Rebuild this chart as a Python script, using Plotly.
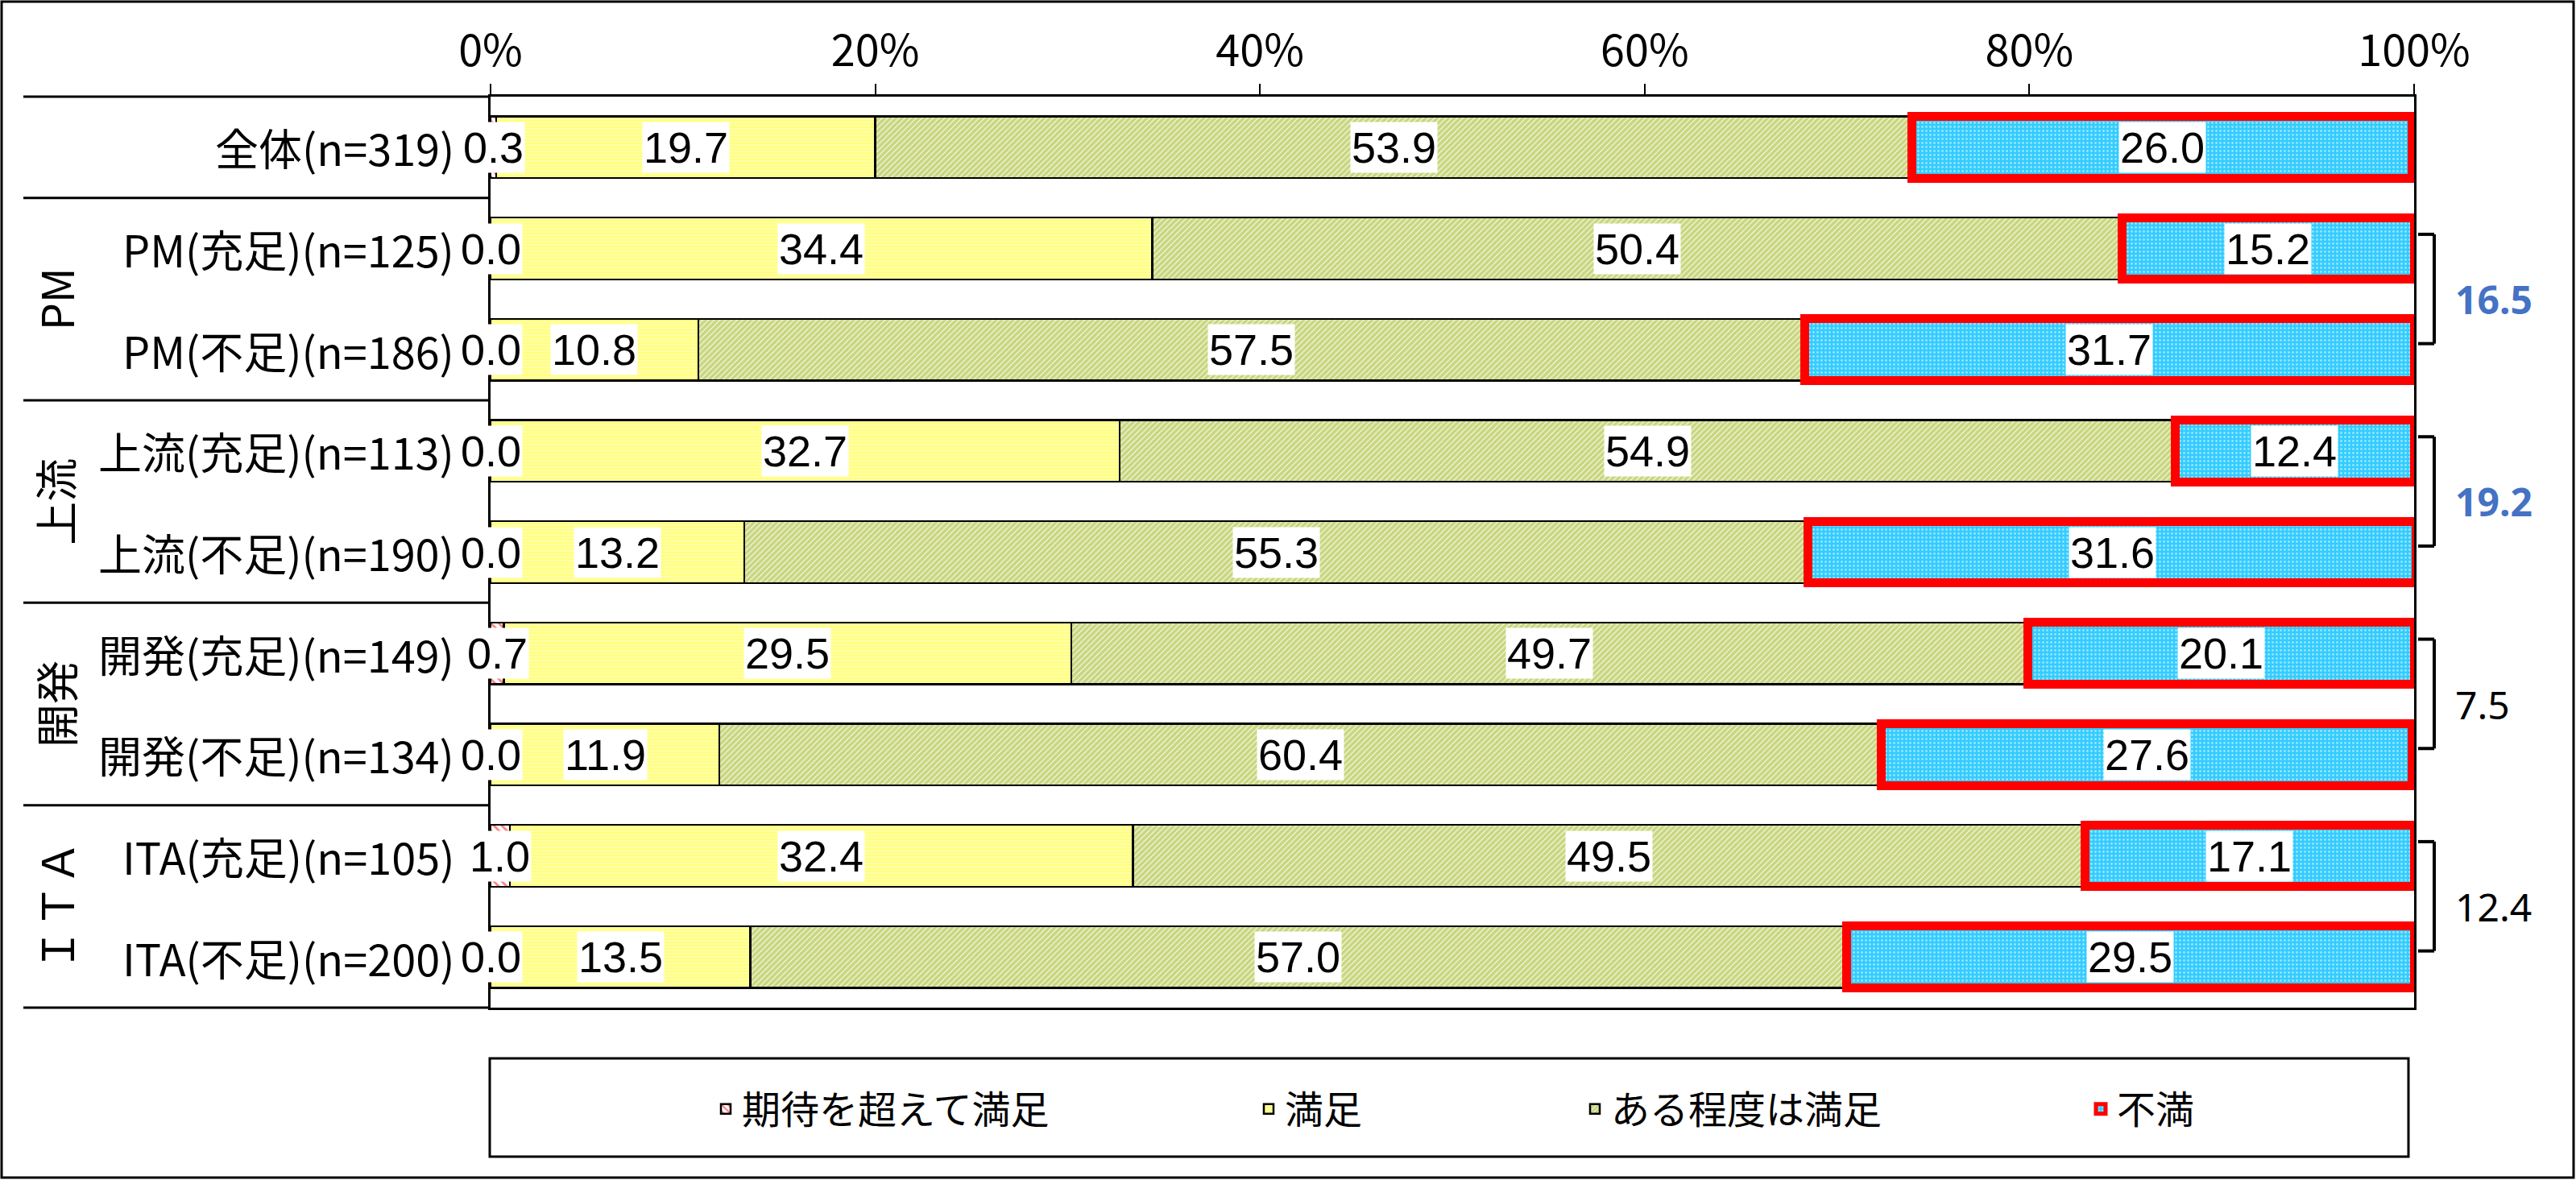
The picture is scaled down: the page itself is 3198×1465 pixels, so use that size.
import plotly.graph_objects as go

# ---------------- data ----------------
categories = [
    "全体(n=319)",
    "PM(充足)(n=125)", "PM(不足)(n=186)",
    "上流(充足)(n=113)", "上流(不足)(n=190)",
    "開発(充足)(n=149)", "開発(不足)(n=134)",
    "ITA(充足)(n=105)", "ITA(不足)(n=200)",
]
group_names = ["PM", "上流", "開発", "ＩＴＡ"]
group_rows = [(1, 2), (3, 4), (5, 6), (7, 8)]
series_names = ["期待を超えて満足", "満足", "ある程度は満足", "不満"]
v_exceeded = [0.3, 0.0, 0.0, 0.0, 0.0, 0.7, 0.0, 1.0, 0.0]
v_satisfied = [19.7, 34.4, 10.8, 32.7, 13.2, 29.5, 11.9, 32.4, 13.5]
v_somewhat = [53.9, 50.4, 57.5, 54.9, 55.3, 49.7, 60.4, 49.5, 57.0]
v_dissatisfied = [26.0, 15.2, 31.7, 12.4, 31.6, 20.1, 27.6, 17.1, 29.5]
diff_highlight = [True, True, False, False]
x_tickvals = [0, 20, 40, 60, 80, 100]
x_ticktext = ["0%", "20%", "40%", "60%", "80%", "100%"]

# ---------------- layout geometry (pixels) ----------------
W, H = 3198, 1465
L, R, T, B = 609, 2997, 120, 1251


def px(x):
    return (x - L) / (R - L)


def py(y):
    return (B - y) / (B - T)


FONT = "Noto Sans CJK JP"
NUMFONT = "Liberation Sans"
FS = 54

series_values = [v_exceeded, v_satisfied, v_somewhat, v_dissatisfied]
patterns = [
    dict(shape="\\", fgcolor="#FF0000", bgcolor="#FFFFFF", size=7, solidity=0.4),
    dict(shape="-", fgcolor="#FFFF00", bgcolor="#FFFFFF", size=4, solidity=0.85),
    dict(shape="/", fgcolor="#93AE00", bgcolor="#FFFFFF", size=5, solidity=0.8),
    dict(shape=".", fgcolor="#FFFFFF", bgcolor="#33CCFF", size=5, solidity=0.25),
]
lines = [
    dict(color="#000000", width=2.5),
    dict(color="#000000", width=2.5),
    dict(color="#000000", width=2.5),
    dict(color="#FF0000", width=11),
]
legend_ids = ["legend", "legend2", "legend3", "legend4"]
legend_text_x = [921, 1595, 2000, 2628]

fig = go.Figure()
for name, vals, pat, ln, lid in zip(series_names, series_values, patterns, lines, legend_ids):
    fig.add_trace(go.Bar(
        y=categories, x=vals, name=name, orientation="h",
        marker=dict(pattern=pat, color=pat["bgcolor"], line=ln),
        legend=lid, hoverinfo="x+name",
    ))

annotations = []
# data labels with white boxes
cum = [0.0] * len(categories)
for vals in series_values:
    for i, v in enumerate(vals):
        annotations.append(dict(
            x=cum[i] + v / 2, y=categories[i], xref="x", yref="y",
            text=f"{v:.1f}", showarrow=False, bgcolor="#FFFFFF", borderpad=1,
            font=dict(family=NUMFONT, size=FS, color="#000000"),
        ))
        cum[i] += v

# category labels
for c in categories:
    annotations.append(dict(
        x=px(566), y=c, xref="paper", yref="y", xanchor="right",
        text=c, showarrow=False,
        font=dict(family=FONT, size=FS, color="#000000"),
    ))

# group labels (rotated)
for g, (a, b) in zip(group_names, group_rows):
    annotations.append(dict(
        x=px(68), y=(a + b) / 2, xref="paper", yref="y", xanchor="center",
        yanchor="middle", text=g, textangle=-90, showarrow=False,
        font=dict(family=FONT, size=FS, color="#000000"),
    ))

shapes = []
# differences with brackets
for (a, b), hl in zip(group_rows, diff_highlight):
    d = v_dissatisfied[b] - v_dissatisfied[a]
    annotations.append(dict(
        x=px(3046), y=(a + b) / 2, xref="paper", yref="y", xanchor="left",
        text=(f"<b>{d:.1f}</b>" if hl else f"{d:.1f}"), showarrow=False,
        font=dict(family="Noto Sans", size=48, color=("#4472C4" if hl else "#000000")),
    ))
    yt, yb = a - 0.14, b - 0.06
    br = dict(color="#000000", width=4)
    shapes += [
        dict(type="line", xref="paper", yref="y", x0=px(3002), x1=px(3022), y0=yt, y1=yt, line=br),
        dict(type="line", xref="paper", yref="y", x0=px(3022), x1=px(3022), y0=yt, y1=yb, line=br),
        dict(type="line", xref="paper", yref="y", x0=px(3002), x1=px(3022), y0=yb, y1=yb, line=br),
    ]

# label-area lines
sep = dict(color="#000000", width=3)
shapes.append(dict(type="line", xref="paper", yref="paper", x0=px(29), x1=0, y0=1, y1=1, line=sep))
shapes.append(dict(type="line", xref="paper", yref="paper", x0=px(29), x1=0, y0=0, y1=0, line=sep))
for k in range(len(group_rows)):
    yb = group_rows[k][0] - 0.5
    shapes.append(dict(type="line", xref="paper", yref="y", x0=px(29), x1=0, y0=yb, y1=yb, line=sep))

# legend box
shapes.append(dict(type="rect", xref="paper", yref="paper", x0=px(608), x1=px(2990),
                   y0=py(1436), y1=py(1314), line=dict(color="#000000", width=3)))
# outer frame
shapes.append(dict(type="rect", xref="paper", yref="paper", x0=px(2), x1=px(3195),
                   y0=py(1462), y1=py(2), line=dict(color="#000000", width=3)))

layout_legends = {}
for lid, tx in zip(legend_ids, legend_text_x):
    layout_legends[lid] = dict(
        x=px(tx - 40), y=py(1377), xref="paper", yref="paper",
        xanchor="left", yanchor="middle", orientation="h",
        bgcolor="rgba(0,0,0,0)", borderwidth=0, itemwidth=30,
        font=dict(family=FONT, size=48, color="#000000"),
    )

fig.update_layout(
    width=W, height=H,
    margin=dict(l=L, r=W - R, t=T, b=H - B, autoexpand=False),
    barmode="stack", bargap=0.39,
    plot_bgcolor="#FFFFFF", paper_bgcolor="#FFFFFF",
    showlegend=True,
    annotations=annotations, shapes=shapes,
    xaxis=dict(
        range=[0, 100], side="top", tickvals=x_tickvals, ticktext=x_ticktext,
        ticks="outside", ticklen=13, tickwidth=2, tickcolor="#000000",
        showline=True, linewidth=3, linecolor="#000000", mirror=True,
        showgrid=False, zeroline=False, fixedrange=True,
        tickfont=dict(family=FONT, size=FS, color="#000000"),
    ),
    yaxis=dict(
        type="category", categoryorder="array", categoryarray=categories,
        autorange="reversed", showticklabels=False, ticks="",
        showline=True, linewidth=3, linecolor="#000000", mirror=True,
        showgrid=False, zeroline=False, fixedrange=True,
    ),
    **layout_legends,
)

fig.write_html("out.html")
